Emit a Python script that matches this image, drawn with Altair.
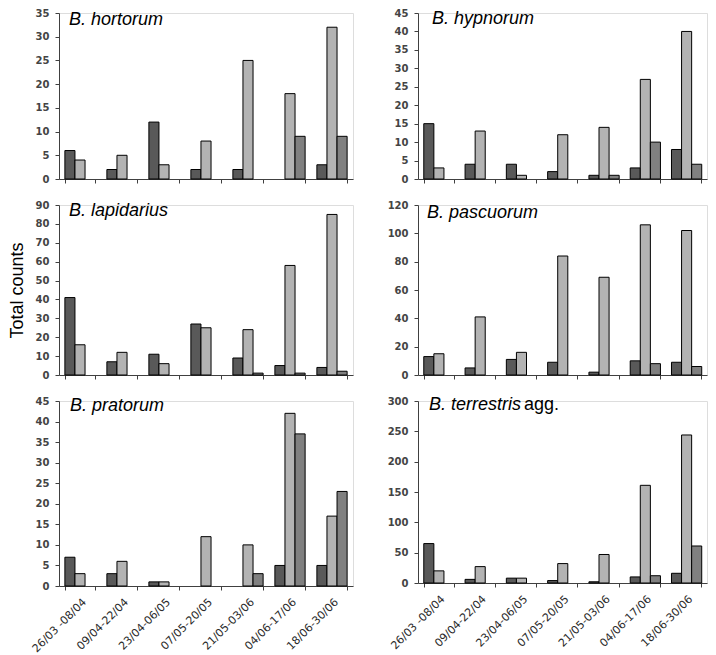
import altair as alt
import pandas as pd

periods = ["26/03 -08/04", "09/04-22/04", "23/04-06/05", "07/05-20/05",
           "21/05-03/06", "04/06-17/06", "18/06-30/06"]
series_names = ["Series 1", "Series 2", "Series 3"]
series_colors = ["#595959", "#b3b3b3", "#808080"]

species = ["B. hortorum", "B. hypnorum", "B. lapidarius", "B. pascuorum",
           "B. pratorum", "B. terrestris"]
suffix_terrestris = "agg."

hortorum_1 = [6, 2, 12, 2, 2, 0, 3]
hortorum_2 = [4, 5, 3, 8, 25, 18, 32]
hortorum_3 = [0, 0, 0, 0, 0, 9, 9]

hypnorum_1 = [15, 4, 4, 2, 1, 3, 8]
hypnorum_2 = [3, 13, 1, 12, 14, 27, 40]
hypnorum_3 = [0, 0, 0, 0, 1, 10, 4]

lapidarius_1 = [41, 7, 11, 27, 9, 5, 4]
lapidarius_2 = [16, 12, 6, 25, 24, 58, 85]
lapidarius_3 = [0, 0, 0, 0, 1, 1, 2]

pascuorum_1 = [13, 5, 11, 9, 2, 10, 9]
pascuorum_2 = [15, 41, 16, 84, 69, 106, 102]
pascuorum_3 = [0, 0, 0, 0, 0, 8, 6]

pratorum_1 = [7, 3, 1, 0, 0, 5, 5]
pratorum_2 = [3, 6, 1, 12, 10, 42, 17]
pratorum_3 = [0, 0, 0, 0, 3, 37, 23]

terrestris_1 = [65, 6, 8, 4, 2, 10, 16]
terrestris_2 = [20, 27, 8, 32, 47, 161, 244]
terrestris_3 = [0, 0, 0, 0, 0, 12, 61]

AXIS_COLOR = "#404040"


def make_df(s1, s2, s3):
    rows = []
    for name, vals in zip(series_names, (s1, s2, s3)):
        for p, v in zip(periods, vals):
            rows.append({"period": p, "series": name, "count": v})
    return pd.DataFrame(rows)


def panel(df, ymax, ystep, w, h, title, tx, ty, bottom=False, ytitle=None,
          suffix=None, sx=None):
    x_axis = alt.Axis(
        title=None, labels=bottom, labelAngle=-45, labelAlign="right",
        labelBaseline="top", labelFont="DejaVu Sans", labelFontSize=11,
        labelColor="#2a2a2a", labelPadding=6, labelLimit=200,
        tickBand="extent", tickSize=4, tickColor=AXIS_COLOR,
        domainColor=AXIS_COLOR, grid=False)
    ykw = dict(values=list(range(0, ymax + 1, ystep)), grid=False, tickSize=4,
               labelPadding=6, labelFont="DejaVu Sans", labelFontSize=10,
               labelFontWeight="bold", labelColor="#444444",
               domainColor=AXIS_COLOR, tickColor=AXIS_COLOR)
    if ytitle:
        ykw.update(title=ytitle, titleFont="Liberation Sans", titleFontSize=18,
                   titleFontWeight="normal", titleColor="black", titlePadding=9)
    else:
        ykw.update(title=None)
    bars = alt.Chart(df).transform_filter("datum.count > 0").mark_bar(
        stroke="black", strokeWidth=1
    ).encode(
        x=alt.X("period:N", scale=alt.Scale(domain=periods, paddingInner=0.28,
                                            paddingOuter=0.14), axis=x_axis),
        xOffset=alt.XOffset("series:N", scale=alt.Scale(
            domain=series_names, paddingInner=0, paddingOuter=0)),
        y=alt.Y("count:Q", scale=alt.Scale(domain=[0, ymax], nice=False),
                axis=alt.Axis(**ykw)),
        fill=alt.Fill("series:N", scale=alt.Scale(domain=series_names,
                                                  range=series_colors),
                      legend=None),
    )
    t1 = alt.Chart(pd.DataFrame({"t": [title]})).mark_text(
        align="left", baseline="alphabetic", font="Liberation Sans",
        fontSize=18, fontStyle="italic", color="black"
    ).encode(x=alt.value(tx), y=alt.value(ty), text="t:N")
    layers = [bars, t1]
    if suffix:
        t2 = alt.Chart(pd.DataFrame({"t": [suffix]})).mark_text(
            align="left", baseline="alphabetic", font="Liberation Sans",
            fontSize=18, color="black"
        ).encode(x=alt.value(sx), y=alt.value(ty), text="t:N")
        layers.append(t2)
    return alt.layer(*layers).properties(width=w, height=h)


WL, WR = 294, 289

p_hort = panel(make_df(hortorum_1, hortorum_2, hortorum_3), 35, 5, WL, 166,
               species[0], 10, 12)
p_hypn = panel(make_df(hypnorum_1, hypnorum_2, hypnorum_3), 45, 5, WR, 166,
               species[1], 14, 11)
p_lapi = panel(make_df(lapidarius_1, lapidarius_2, lapidarius_3), 90, 10, WL, 170,
               species[2], 10, 11, ytitle="Total counts")
p_pasc = panel(make_df(pascuorum_1, pascuorum_2, pascuorum_3), 120, 20, WR, 170,
               species[3], 9, 13)
p_prat = panel(make_df(pratorum_1, pratorum_2, pratorum_3), 45, 5, WL, 185,
               species[4], 11, 10, bottom=True)
p_terr = panel(make_df(terrestris_1, terrestris_2, terrestris_3), 300, 50, WR, 182,
               species[5], 11, 9, bottom=True, suffix=suffix_terrestris, sx=106)

chart = alt.concat(
    p_hort, p_hypn, p_lapi, p_pasc, p_prat, p_terr,
    columns=2, spacing={"row": 26, "column": 65}, bounds="flush"
).properties(
    padding={"left": -1, "top": -1, "right": 0, "bottom": 4}
).configure_view(stroke=None).configure(background="white")

chart.save("out.html", embed_options={"renderer": "svg", "actions": False})
